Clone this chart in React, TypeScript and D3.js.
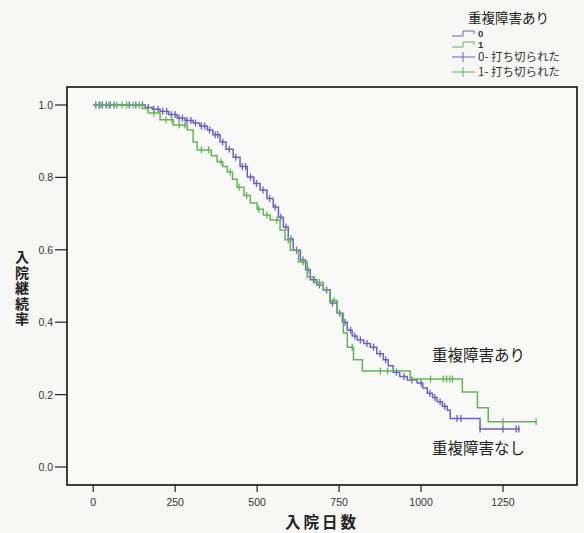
import { useMemo } from "react"
import * as d3 from "d3"

// group 0 (重複障害なし) — purple
const days0 = [0, 159, 180, 204, 230, 256, 280, 305, 325, 348, 365, 387, 405, 427, 448, 470, 490, 509, 530, 549, 565, 580, 595, 610, 632, 648, 662, 682, 702, 723, 744, 760, 775, 790, 805, 825, 845, 865, 885, 900, 915, 935, 958, 988, 1005, 1019, 1035, 1049, 1065, 1080, 1089, 1180, 1302]
const surv0 = [1.0, 0.993, 0.988, 0.983, 0.974, 0.964, 0.957, 0.95, 0.942, 0.931, 0.918, 0.898, 0.878, 0.856, 0.83, 0.801, 0.783, 0.765, 0.742, 0.718, 0.69, 0.663, 0.63, 0.599, 0.572, 0.545, 0.517, 0.503, 0.489, 0.453, 0.425, 0.4, 0.378, 0.362, 0.351, 0.341, 0.331, 0.313, 0.296, 0.28, 0.262, 0.25, 0.24, 0.232, 0.218, 0.204, 0.192, 0.18, 0.168, 0.157, 0.134, 0.105, 0.105]
const censor0 = [8, 18, 28, 40, 52, 64, 110, 130, 150, 168, 185, 198, 212, 224, 238, 250, 262, 272, 286, 298, 312, 330, 340, 355, 372, 380, 395, 415, 435, 455, 465, 480, 498, 518, 538, 555, 572, 588, 603, 620, 640, 655, 672, 690, 712, 730, 752, 768, 785, 798, 815, 835, 855, 875, 892, 925, 948, 972, 1000, 1027, 1042, 1058, 1072, 1110, 1122, 1180, 1250, 1290, 1298]

// group 1 (重複障害あり) — green
const days1 = [0, 150, 168, 204, 244, 287, 305, 317, 360, 378, 395, 409, 425, 439, 460, 479, 500, 519, 540, 570, 585, 601, 626, 653, 675, 702, 722, 744, 763, 775, 794, 821, 967, 1126, 1172, 1205, 1351]
const surv1 = [1.0, 0.99, 0.978, 0.959, 0.945, 0.931, 0.898, 0.876, 0.86, 0.843, 0.83, 0.815, 0.795, 0.773, 0.75, 0.729, 0.712, 0.696, 0.682, 0.655, 0.628, 0.599, 0.566, 0.525, 0.51, 0.489, 0.46, 0.425, 0.37, 0.331, 0.296, 0.265, 0.243, 0.207, 0.164, 0.125, 0.125]
const censor1 = [22, 48, 72, 88, 102, 122, 140, 185, 222, 240, 262, 280, 330, 352, 390, 418, 445, 468, 505, 530, 560, 595, 640, 690, 735, 790, 876, 898, 1029, 1068, 1078, 1088, 1096, 1250, 1351]

const xTicks = [0, 250, 500, 750, 1000, 1250]
const yTicks = [0, 0.2, 0.4, 0.6, 0.8, 1.0]
const legendLines = ["0", "1"]
const legendCensor = ["0- 打ち切られた", "1- 打ち切られた"]

const PURPLE = "#6a62c2"
const GREEN = "#62b556"
const CJK = "'Noto Sans CJK JP', sans-serif"
const NUM = "'Liberation Sans', Arial, sans-serif"

const frame = { left: 67, top: 87, right: 577, bottom: 485 }

function survAt(days: number[], surv: number[], t: number) {
  const i = d3.bisectRight(days, t) - 1
  return surv[Math.max(0, i)]
}

export default function App() {
  const x = useMemo(() => d3.scaleLinear().domain([0, 1250]).range([93.2, 503]), [])
  const y = useMemo(() => d3.scaleLinear().domain([0, 1]).range([467, 105]), [])

  const line = d3
    .line<[number, number]>()
    .x((d) => x(d[0]))
    .y((d) => y(d[1]))
    .curve(d3.curveStepAfter)

  const series = [
    { days: days0, surv: surv0, censor: censor0, color: PURPLE },
    { days: days1, surv: surv1, censor: censor1, color: GREEN },
  ]
  const colors = [PURPLE, GREEN]

  return (
    <svg width={584} height={533} style={{ position: "absolute", left: 0, top: 0, background: "#f7f7f5" }}>
      <rect x={frame.left} y={frame.top} width={frame.right - frame.left} height={frame.bottom - frame.top} fill="#f9f9f8" stroke="#111" strokeWidth={1.6} />

      {/* y axis */}
      {yTicks.map((t) => (
        <g key={t}>
          <line x1={55} x2={frame.left} y1={y(t)} y2={y(t)} stroke="#222" strokeWidth={1.2} />
          <text x={53} y={y(t) + 4} textAnchor="end" fontFamily={NUM} fontSize={10.5} fill="#333">
            {t.toFixed(1)}
          </text>
        </g>
      ))}
      <text
        x={22}
        y={250}
        fontFamily={CJK}
        fontWeight="bold"
        fontSize={14}
        letterSpacing={1.5}
        fill="#222"
        style={{ writingMode: "vertical-rl", textOrientation: "upright" }}
      >
        入院継続率
      </text>

      {/* x axis */}
      {xTicks.map((t) => (
        <g key={t}>
          <line x1={x(t)} x2={x(t)} y1={frame.bottom} y2={frame.bottom + 7} stroke="#222" strokeWidth={1.2} />
          <text x={x(t)} y={frame.bottom + 21} textAnchor="middle" fontFamily={NUM} fontSize={10.5} fill="#333">
            {t}
          </text>
        </g>
      ))}
      <text x={322} y={528} textAnchor="middle" fontFamily={CJK} fontWeight="bold" fontSize={15.5} letterSpacing={3} fill="#222">
        入院日数
      </text>

      {/* curves */}
      {series.map((s, k) => (
        <g key={k}>
          <path d={line(s.days.map((d, i) => [d, s.surv[i]]) as [number, number][]) ?? ""} fill="none" stroke={s.color} strokeWidth={1.5} />
          {s.censor.map((c, i) => {
            const cy = y(survAt(s.days, s.surv, c))
            return <line key={i} x1={x(c)} x2={x(c)} y1={cy - 3.5} y2={cy + 3.5} stroke={s.color} strokeWidth={1.3} />
          })}
        </g>
      ))}

      {/* annotations */}
      <text x={432} y={361} fontFamily={CJK} fontSize={15.5} fill="#222">重複障害あり</text>
      <text x={432} y={454} fontFamily={CJK} fontSize={15.5} fill="#222">重複障害なし</text>

      {/* legend */}
      <text x={468} y={23} fontFamily={CJK} fontSize={13.5} fill="#222">重複障害あり</text>
      {legendLines.map((label, i) => {
        const cy = 33 + i * 11
        return (
          <g key={label}>
            <path d={`M452,${cy + 3}H463V${cy - 2}H474V${cy + 1}`} fill="none" stroke={colors[i]} strokeWidth={1} />
            <text x={478} y={cy + 3.5} fontFamily={NUM} fontSize={9.5} fontWeight="bold" fill="#333">{label}</text>
          </g>
        )
      })}
      {legendCensor.map((label, i) => {
        const cy = 57 + i * 15
        return (
          <g key={label}>
            <line x1={452} x2={475} y1={cy} y2={cy} stroke={colors[i]} strokeWidth={1} />
            <line x1={463} x2={463} y1={cy - 5} y2={cy + 5} stroke={colors[i]} strokeWidth={1} />
            <text x={478} y={cy + 4} fontFamily={CJK} fontSize={11.5} fill="#333">{label}</text>
          </g>
        )
      })}
    </svg>
  )
}
